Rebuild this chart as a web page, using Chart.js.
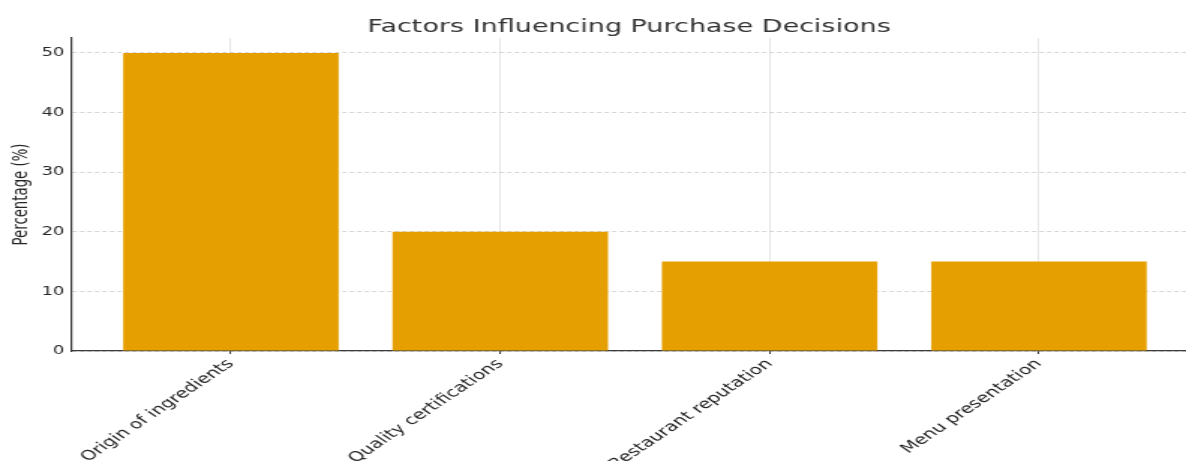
<!DOCTYPE html>
<html>
<head>
<meta charset="utf-8">
<script src="https://cdn.jsdelivr.net/npm/chart.js@4.4.0/dist/chart.umd.min.js"></script>
<style>
  html, body { margin: 0; padding: 0; background: #fff; overflow: hidden; }
  /* the chart is drawn narrow and widened to the full page width */
  #wrap { width: 791px; height: 461px; transform: scaleX(1.4994); transform-origin: 0 0; }
</style>
</head>
<body>
<div id="wrap"><canvas id="chart" width="791" height="461"></canvas></div>
<script>
const categories = ['Origin of ingredients', 'Quality certifications', 'Restaurant reputation', 'Menu presentation'];
const percentages = [50, 20, 15, 15];
const yTicks = [0, 10, 20, 30, 40, 50];

document.addEventListener('DOMContentLoaded', () => {
    const ctx = document.getElementById('chart').getContext('2d');
    const font = 'DejaVu Sans';
    const ink = '#262626';
    const axisInk = '#3a3a3a';

    new Chart(ctx, {
        type: 'bar',
        data: {
            datasets: [{
                data: categories.map((c, i) => ({ x: i, y: percentages[i] })),
                backgroundColor: '#E69F00',
                borderWidth: 0,
                barPercentage: 0.8,
                categoryPercentage: 1.0
            }]
        },
        options: {
            responsive: false,
            animation: false,
            devicePixelRatio: 1,
            layout: { padding: 0 },
            plugins: {
                legend: { display: false },
                tooltip: { enabled: false },
                title: {
                    display: true,
                    text: 'Factors Influencing Purchase Decisions',
                    fullSize: false,
                    color: '#333',
                    font: { family: font, size: 18, weight: 'normal', lineHeight: 1.0 },
                    padding: { top: 18, bottom: 2 }
                }
            },
            scales: {
                x: {
                    type: 'linear',
                    offset: false,
                    min: -0.59,
                    max: 3.546,
                    afterBuildTicks: (scale) => {
                        scale.ticks = categories.map((c, i) => ({ value: i }));
                    },
                    afterFit: (scale) => { scale.height = 110; },
                    ticks: {
                        autoSkip: false,
                        minRotation: 45,
                        maxRotation: 45,
                        padding: 2,
                        color: ink,
                        font: { family: font, size: 13.5 },
                        callback: (v) => categories[v]
                    },
                    grid: {
                        offset: false,
                        color: 'rgba(0,0,0,0.1)',
                        tickColor: axisInk,
                        tickLength: 3,
                        tickBorderDash: []
                    },
                    border: { color: axisInk, width: 1.2 }
                },
                y: {
                    min: 0,
                    max: 52.5,
                    afterBuildTicks: (scale) => {
                        scale.ticks = yTicks.map(v => ({ value: v }));
                    },
                    afterFit: (scale) => { scale.width = 48; },
                    ticks: {
                        padding: 5,
                        color: ink,
                        font: { family: font, size: 12 }
                    },
                    grid: {
                        color: 'rgba(0,0,0,0.16)',
                        drawTicks: false
                    },
                    border: { color: axisInk, width: 1.2, dash: [3, 2] },
                    title: {
                        display: true,
                        text: 'Percentage (%)',
                        color: ink,
                        font: { family: font, size: 13.3, lineHeight: 1.2 },
                        padding: { top: 7, bottom: 0 }
                    }
                }
            }
        }
    });
});
</script>
</body>
</html>
